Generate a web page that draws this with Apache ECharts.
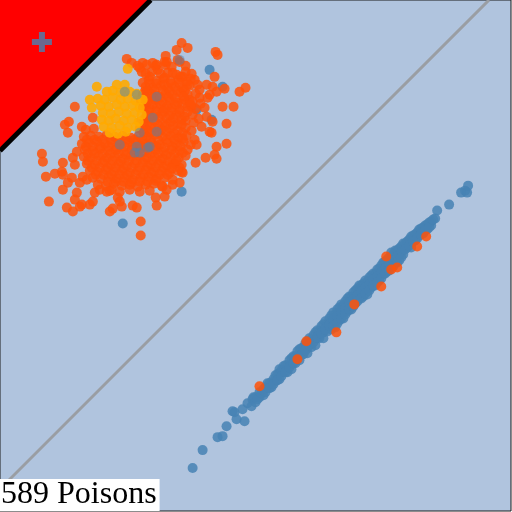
<!DOCTYPE html>
<html>
<head>
	<meta http-equiv="Content-Type" content="text/html; charset=utf-8"/>
	<title>589 Poisons</title>
	<style>
		html, body {
			margin: 0;
			padding: 0;
			background: #ffffff;
		}
		#chart {
			width: 512px;
			height: 512px;
		}
	</style>
</head>
<body>
	<div id="chart"></div>

	<script type="text/javascript" src="https://cdn.jsdelivr.net/npm/echarts@6.0.0/dist/echarts.min.js"></script>
	<script>
		// plot space runs 0..512 on both axes, y counted from the top
		const labelText = '589 Poisons';

		// red corner region and its dark edge
		const trianglePts = [[0, 0], [151, 0], [0, 151]];
		const edgeLine = [[0, 151], [151, 0]];
		// grey reference diagonal
		const diagonalLine = [[0, 490], [490, 0]];
		// marker inside the corner
		const crossPoint = [[42, 42]];

		// steel blue group (long thin band + a few strays)
		const bluePoints = [
			[193, 469], [203, 451], [218, 438], [223, 437], [227, 427], [233, 412], [235, 413], [243, 410],
			[245, 422], [237, 420], [248, 404], [252, 407], [253, 400], [254, 398],
			[256, 398], [256, 403], [260, 393], [260, 398], [264, 390], [264, 396], [268, 384], [268, 389],
			[272, 383], [272, 388], [276, 376], [276, 382], [280, 370], [280, 374], [280, 380], [284, 367],
			[284, 373], [288, 366], [288, 373], [292, 359], [292, 365], [292, 370], [296, 357], [296, 364],
			[300, 350], [300, 356], [300, 361], [304, 348], [304, 355], [308, 342], [308, 349], [308, 354],
			[312, 341], [312, 348], [316, 333], [316, 340], [316, 346], [320, 332], [320, 339], [324, 325],
			[324, 333], [324, 339], [328, 325], [328, 332], [332, 316], [332, 323], [332, 330], [336, 315],
			[336, 322], [336, 328], [340, 308], [340, 314], [340, 321], [344, 306], [344, 313], [344, 319],
			[348, 299], [348, 305], [348, 312], [352, 297], [352, 304], [352, 310], [356, 291], [356, 297],
			[356, 304], [360, 286], [360, 292], [360, 299], [364, 284], [364, 291], [364, 297], [368, 282],
			[368, 289], [368, 295], [372, 276], [372, 282], [372, 288], [376, 274], [376, 281], [376, 286],
			[380, 269], [380, 275], [380, 281], [384, 263], [384, 269], [384, 275], [388, 260], [388, 266],
			[388, 272], [392, 253], [392, 260], [392, 267], [396, 251], [396, 258], [396, 264], [400, 249],
			[400, 256], [400, 261], [404, 244], [404, 250], [404, 255], [408, 242], [408, 248], [412, 237],
			[412, 243], [412, 248], [416, 235], [416, 241], [420, 230], [420, 236], [424, 228], [424, 234],
			[428, 225], [428, 230], [432, 222], [432, 226], [436, 219], [438, 211], [450, 205], [462, 193],
			[466, 191], [468, 193], [469, 186],
			// filling of the band
			[258, 400], [262, 394], [266, 388], [266, 393], [270, 384], [270, 389], [274, 380], [274, 385],
			[278, 375], [278, 381], [282, 371], [282, 377], [286, 366], [286, 373], [290, 361], [290, 368],
			[294, 357], [294, 364], [298, 352], [298, 359], [302, 349], [302, 356], [306, 344], [306, 351],
			[310, 339], [310, 346], [314, 336], [314, 343], [318, 331], [318, 338], [322, 327], [322, 334],
			[326, 322], [326, 330], [330, 319], [330, 326], [334, 313], [334, 320], [334, 327], [338, 310],
			[338, 317], [338, 324], [342, 305], [342, 312], [342, 319], [346, 302], [346, 309], [346, 315],
			[350, 297], [350, 303], [350, 310], [354, 293], [354, 300], [354, 307], [358, 289], [358, 296],
			[358, 302], [362, 286], [362, 292], [362, 299], [366, 281], [366, 288], [366, 294], [370, 278],
			[370, 285], [370, 291], [374, 274], [374, 280], [374, 286], [378, 270], [378, 277], [378, 283],
			[382, 266], [382, 273], [382, 279], [386, 262], [386, 269], [386, 274], [390, 258], [390, 265],
			[390, 271], [394, 255], [394, 261], [394, 267], [398, 251], [398, 257], [398, 263], [402, 247],
			[402, 253], [402, 258], [406, 244], [406, 250], [410, 240], [410, 246], [414, 236], [414, 242],
			[418, 233], [418, 239], [422, 229], [422, 235], [426, 226], [426, 231], [430, 223], [430, 228],
			[434, 220],
			// strays near the cloud
			[210, 70], [223, 87], [197, 110], [212, 120], [182, 192], [123, 224]
		];

		// orange-red group (big cloud + a few inside the blue band)
		const orangePoints = [
			[182, 43], [188, 48], [177, 50], [216, 52], [218, 55], [166, 56], [127, 59], [132, 63],
			[143, 63], [153, 63], [165, 62], [180, 62], [140, 68], [147, 65], [157, 65], [215, 77],
			[240, 92], [246, 88], [223, 107], [234, 107], [75, 107], [227, 124], [65, 125], [69, 122],
			[68, 133], [82, 127], [93, 118], [227, 144], [217, 147], [215, 155], [217, 159], [206, 158],
			[196, 163], [42, 154], [43, 162], [63, 163], [46, 177], [55, 174], [62, 172], [63, 175],
			[73, 158], [77, 152], [75, 165], [72, 178], [68, 183], [63, 190], [80, 183], [83, 177],
			[87, 180], [77, 193], [75, 200], [80, 207], [49, 202], [67, 208], [73, 212], [82, 205],
			[90, 205], [93, 202], [110, 212], [113, 209], [118, 198], [120, 202], [122, 207], [133, 206],
			[137, 208], [141, 222], [141, 236], [95, 193], [100, 190], [107, 192], [112, 190], [180, 183],
			[173, 185], [163, 187], [167, 190], [156, 198], [165, 197], [157, 206], [182, 172], [183, 173],
			[173, 165], [180, 168], [183, 77], [195, 80], [198, 85], [207, 85], [213, 87], [217, 92],
			[210, 95], [200, 98], [208, 98], [190, 100], [192, 107], [205, 108], [207, 117], [213, 122],
			[202, 127], [210, 132], [212, 133], [195, 140], [197, 145], [173, 73], [178, 60], [167, 62],
			[166, 65], [158, 70], [142, 72], [143, 83], [145, 92], [225, 89],
			// dense core
			[138, 66], [156, 66], [172, 67], [186, 66],
			[146, 74], [152, 72], [161, 74], [168, 73], [177, 75], [186, 72], [192, 74],
			[149, 80], [157, 81], [164, 79], [171, 81], [179, 80], [187, 82], [191, 79],
			[146, 87], [153, 88], [161, 86], [168, 88], [175, 87], [183, 89], [190, 86], [200, 90],
			[143, 95], [151, 94], [158, 96], [166, 94], [173, 95], [181, 93], [188, 95], [196, 94],
			[141, 101], [148, 102], [155, 100], [163, 102], [170, 101], [178, 103], [185, 100], [193, 102], [201, 104],
			[143, 108], [150, 109], [157, 107], [165, 109], [172, 108], [180, 110], [188, 107], [196, 109],
			[147, 115], [154, 116], [162, 114], [170, 116], [177, 115], [185, 117], [193, 115], [199, 119],
			[140, 122], [148, 123], [155, 121], [163, 123], [171, 122], [178, 124], [186, 121], [194, 123],
			[86, 130], [94, 129], [140, 129], [147, 130], [155, 128], [162, 130], [170, 129], [178, 131], [186, 128], [192, 131],
			[84, 137], [91, 136], [99, 137], [107, 135], [115, 137], [123, 136], [131, 138], [139, 136],
			[147, 137], [155, 135], [163, 137], [171, 136], [179, 138], [187, 136],
			[82, 144], [89, 143], [97, 142], [105, 144], [112, 143], [120, 145], [128, 143], [136, 142],
			[144, 144], [152, 143], [160, 145], [168, 143], [176, 144], [184, 142], [191, 145],
			[85, 150], [93, 151], [100, 149], [108, 151], [116, 150], [124, 152], [132, 150], [140, 149],
			[148, 151], [156, 150], [164, 152], [172, 150], [180, 151], [188, 150],
			[84, 157], [91, 158], [99, 156], [107, 158], [115, 157], [123, 159], [131, 157], [139, 156],
			[147, 158], [155, 157], [163, 159], [171, 157], [179, 158], [186, 156],
			[87, 164], [95, 165], [103, 163], [111, 165], [119, 164], [127, 166], [135, 164], [143, 163],
			[151, 165], [159, 164], [167, 166], [175, 164], [182, 165],
			[90, 171], [98, 172], [106, 170], [114, 172], [122, 171], [130, 173], [138, 171], [146, 170],
			[154, 172], [162, 171], [170, 173], [178, 171],
			[93, 178], [101, 179], [109, 177], [117, 179], [125, 178], [133, 180], [141, 178], [149, 177],
			[157, 179], [165, 178], [173, 180],
			[98, 185], [106, 186], [114, 184], [122, 186], [130, 185], [138, 187], [146, 185], [154, 184], [162, 186],
			[110, 191], [120, 192], [130, 190], [140, 192], [150, 191],
			// core, in-between rows
			[150, 77], [165, 78], [181, 77],
			[150, 84], [157, 84], [165, 85], [172, 84], [180, 84], [188, 85],
			[148, 91], [155, 91], [163, 91], [170, 92], [178, 91], [185, 91],
			[146, 98], [154, 98], [161, 98], [169, 98], [176, 99], [184, 97],
			[146, 105], [153, 105], [161, 105], [168, 106], [176, 105], [183, 104], [191, 105],
			[149, 112], [157, 112], [164, 112], [172, 112], [180, 113], [188, 112],
			[145, 119], [151, 119], [159, 118], [167, 119], [174, 119], [182, 120],
			[144, 126], [151, 126], [159, 126], [166, 126], [174, 126], [182, 125],
			[144, 133], [151, 133], [159, 133], [167, 132], [175, 134], [183, 133],
			[87, 140], [95, 140], [103, 140], [111, 140], [119, 141], [127, 140], [135, 140], [143, 140],
			[151, 140], [159, 141], [167, 140], [175, 140], [183, 139],
			[86, 147], [93, 147], [101, 147], [109, 147], [117, 148], [125, 147], [133, 147], [141, 146],
			[149, 147], [157, 147], [165, 148], [173, 147], [181, 147],
			[88, 154], [95, 154], [103, 154], [111, 154], [119, 154], [127, 155], [135, 154], [143, 153],
			[151, 154], [159, 154], [167, 155], [175, 154], [183, 153],
			[88, 161], [97, 161], [105, 161], [113, 161], [121, 162], [129, 161], [137, 161], [145, 160],
			[153, 161], [161, 161], [169, 162], [177, 161],
			[92, 168], [100, 168], [108, 168], [116, 168], [124, 169], [132, 168], [140, 168], [148, 167],
			[156, 168], [164, 168], [172, 169],
			[96, 175], [104, 175], [112, 175], [120, 175], [128, 176], [136, 175], [144, 175], [152, 174],
			[160, 175], [168, 175],
			[108, 182], [116, 182], [124, 182], [132, 183], [140, 182], [148, 182], [156, 181],
			// strays in the blue band
			[427, 237], [418, 247], [387, 257], [398, 268], [392, 270], [382, 287], [355, 305], [337, 333],
			[307, 342], [298, 360], [260, 387]
		];

		// amber group sitting on the upper left of the cloud
		const amberPoints = [
			[128, 69],
			[97, 87], [117, 85], [125, 85],
			[107, 92], [113, 91], [121, 93], [130, 92], [137, 94],
			[90, 100], [98, 99], [105, 100], [113, 98], [121, 100], [128, 99], [136, 101], [143, 100],
			[92, 108], [101, 106], [109, 107], [117, 105], [125, 107], [133, 106], [140, 108],
			[103, 113], [111, 114], [119, 112], [127, 114], [135, 113], [142, 115],
			[102, 120], [109, 121], [116, 119], [124, 121], [132, 120], [139, 122],
			[104, 127], [112, 128], [120, 126], [128, 128], [136, 127],
			[110, 133], [118, 134], [126, 132]
		];

		// blue points that show through the cloud
		const blueOverlap = [
			[137, 95], [125, 92], [157, 97], [153, 118], [140, 133], [157, 132], [137, 147], [150, 147],
			[135, 153], [120, 145], [180, 60], [148, 148], [140, 153]
		];

		const chart = echarts.init(document.getElementById('chart'));

		const option = {
			animation: false,
			title: {
				text: labelText,
				left: 0,
				bottom: 0,
				backgroundColor: '#ffffff',
				padding: [0, 3, 0, 1],
				textStyle: {
					fontFamily: 'Liberation Serif',
					fontSize: 32,
					fontWeight: 'normal',
					color: '#000000',
					lineHeight: 30
				},
				z: 20
			},
			grid: {
				left: 0,
				top: 0,
				width: 511,
				height: 511,
				show: true,
				backgroundColor: '#b0c4de',
				borderColor: '#1a1a1a',
				borderWidth: 1
			},
			xAxis: {type: 'value', min: 0, max: 512, show: false},
			yAxis: {type: 'value', min: 0, max: 512, inverse: true, show: false},
			series: [
				{
					type: 'custom',
					data: [[0, 0]],
					z: 1,
					renderItem: function(params, api){
						return {
							type: 'polygon',
							shape: {points: trianglePts.map(p => api.coord(p))},
							style: {fill: '#ff0000'}
						};
					}
				},
				{
					type: 'line',
					data: edgeLine,
					symbol: 'none',
					z: 2,
					lineStyle: {color: '#000000', width: 5}
				},
				{
					type: 'line',
					data: diagonalLine,
					symbol: 'none',
					z: 2,
					lineStyle: {color: '#9a9ea3', width: 3}
				},
				{
					type: 'scatter',
					data: bluePoints,
					symbolSize: 10,
					z: 3,
					itemStyle: {color: '#4682b4', opacity: 0.85}
				},
				{
					type: 'scatter',
					data: orangePoints,
					symbolSize: 10,
					z: 4,
					itemStyle: {color: '#ff5208', opacity: 0.85}
				},
				{
					type: 'scatter',
					data: amberPoints,
					symbolSize: 10,
					z: 5,
					itemStyle: {color: '#ffaa00', opacity: 0.9}
				},
				{
					type: 'scatter',
					data: blueOverlap,
					symbolSize: 10,
					z: 6,
					itemStyle: {color: '#4682b4', opacity: 0.45}
				},
				{
					type: 'scatter',
					data: crossPoint,
					symbol: 'path://M7,0H13V7H20V13H13V20H7V13H0V7H7Z',
					symbolSize: 20,
					z: 7,
					itemStyle: {color: '#4682b4'}
				}
			]
		};

		chart.setOption(option);
	</script>
</body>
</html>
